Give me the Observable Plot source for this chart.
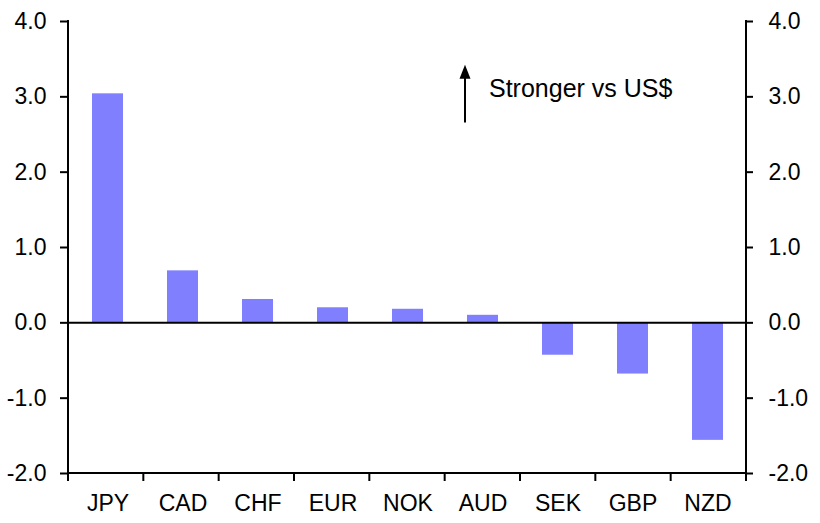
<!DOCTYPE html>
<html>
<head>
<meta charset="utf-8">
<script src="https://cdn.jsdelivr.net/npm/d3@7"></script>
<script src="https://cdn.jsdelivr.net/npm/@observablehq/plot@0.6"></script>
<style>
  body { margin: 0; background: #fff; }
  #chart svg { font-family: "Liberation Sans", Arial, sans-serif; }
</style>
</head>
<body>
<div id="chart"></div>
<script>
const currencies = ["JPY", "CAD", "CHF", "EUR", "NOK", "AUD", "SEK", "GBP", "NZD"];
const changes = [3.04, 0.69, 0.31, 0.20, 0.18, 0.10, -0.43, -0.68, -1.56];
const yTicks = [-2, -1, 0, 1, 2, 3, 4];
const annotationText = "Stronger vs US$";

const data = currencies.map((c, i) => ({currency: c, value: changes[i]}));
const fmt = d => d.toFixed(1);

// arrow head: tall filled triangle, origin at base centre
const arrowHead = {
  draw(context) {
    context.moveTo(0, -14);
    context.lineTo(5.5, 0);
    context.lineTo(-5.5, 0);
    context.closePath();
  }
};

const plot = Plot.plot({
  width: 820,
  height: 523,
  marginLeft: 68,
  marginRight: 74,
  marginTop: 21,
  marginBottom: 50,
  style: {fontFamily: "Liberation Sans, Arial, sans-serif", fontSize: "23px", background: "#fff", color: "#000"},
  x: {domain: currencies, paddingInner: 0.59, paddingOuter: 0.295, align: 0.5},
  y: {domain: [-2, 4]},
  marks: [
    Plot.barY(data, {x: "currency", y: "value", fill: "#8080FF"}),
    Plot.ruleY([0], {stroke: "#000", strokeWidth: 2}),
    Plot.axisY({anchor: "left", ticks: yTicks, tickFormat: fmt, tickSize: 8, tickPadding: 14, fontSize: 23, strokeWidth: 2, label: null}),
    Plot.axisY({anchor: "right", ticks: yTicks, tickFormat: fmt, tickSize: 6, tickPadding: 16, fontSize: 23, strokeWidth: 2, label: null}),
    Plot.axisX({anchor: "bottom", tickSize: 0, tickPadding: 21, fontSize: 23, label: null}),
    Plot.link([{x: "AUD", y1: 2.66, y2: 3.25}], {x1: "x", x2: "x", y1: "y1", y2: "y2", dx: -18, stroke: "#000", strokeWidth: 2}),
    Plot.dot([{x: "AUD", y: 3.24}], {x: "x", y: "y", dx: -18, symbol: arrowHead, fill: "#000", stroke: "none"}),
    Plot.text([{x: "AUD", y: 3.1}], {x: "x", y: "y", text: () => annotationText, dx: 6, textAnchor: "start", fontSize: 25, fill: "#000"})
  ]
});

document.getElementById("chart").appendChild(plot);

// axis lines and band-boundary ticks, positioned from Plot's own scales
const xs = plot.scale("x");
const ys = plot.scale("y");
const svg = d3.select(plot);
const x0 = xs.range[0], x1 = xs.range[1];
const yTop = ys.apply(4), yBot = ys.apply(-2);
const g = svg.append("g").attr("stroke", "#000").attr("stroke-width", 2).attr("fill", "none");
g.append("line").attr("x1", x0).attr("x2", x0).attr("y1", yTop - 1).attr("y2", yBot + 1);
g.append("line").attr("x1", x1).attr("x2", x1).attr("y1", yTop - 1).attr("y2", yBot + 1);
g.append("line").attr("x1", x0).attr("x2", x1).attr("y1", yBot).attr("y2", yBot);
const step = (x1 - x0) / currencies.length;
for (let i = 0; i <= currencies.length; i++) {
  const xx = x0 + i * step;
  g.append("line").attr("x1", xx).attr("x2", xx).attr("y1", yBot).attr("y2", yBot + 8);
}
</script>
</body>
</html>
